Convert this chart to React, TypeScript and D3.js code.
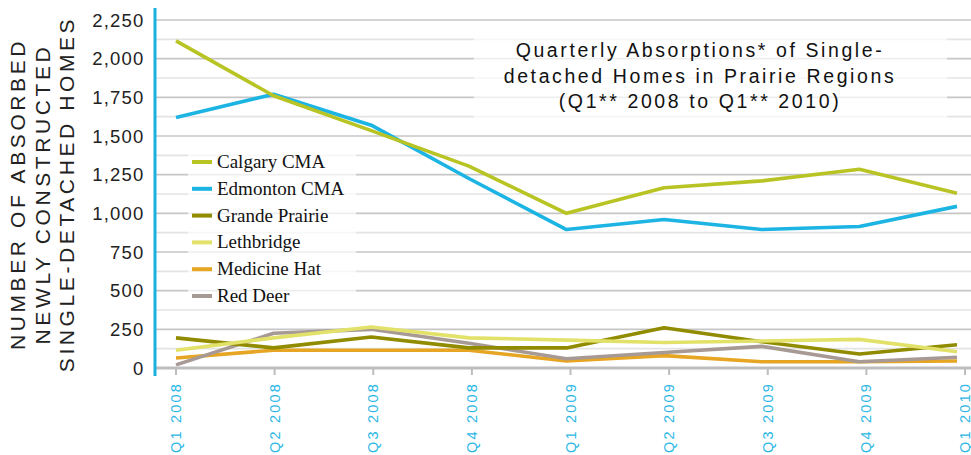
import React from 'react';
import { scaleLinear, scalePoint, line, range } from 'd3';

const quarters = ['Q1 2008', 'Q2 2008', 'Q3 2008', 'Q4 2008', 'Q1 2009', 'Q2 2009', 'Q3 2009', 'Q4 2009', 'Q1 2010'];
const calgary = [2115, 1760, 1535, 1305, 1000, 1165, 1210, 1285, 1130];
const edmonton = [1620, 1770, 1570, 1225, 895, 960, 895, 915, 1045];
const grandePrairie = [195, 130, 200, 130, 130, 260, 170, 90, 150];
const lethbridge = [115, 195, 265, 195, 180, 165, 175, 185, 105];
const medicineHat = [65, 115, 115, 115, 45, 80, 40, 40, 45];
const redDeer = [20, 225, 250, 160, 60, 100, 140, 40, 70];
const yTicks = [0, 250, 500, 750, 1000, 1250, 1500, 1750, 2000, 2250];
const titleLines = ['Quarterly Absorptions* of Single-', 'detached Homes in Prairie Regions', '(Q1** 2008 to Q1** 2010)'];
const yTitleLines = ['NUMBER OF ABSORBED', 'NEWLY CONSTRUCTED', 'SINGLE-DETACHED HOMES'];

const series = [
  { name: 'Calgary CMA', values: calgary, color: '#b8c424' },
  { name: 'Edmonton CMA', values: edmonton, color: '#1cb4e3' },
  { name: 'Grande Prairie', values: grandePrairie, color: '#918b00' },
  { name: 'Lethbridge', values: lethbridge, color: '#e2e26a' },
  { name: 'Medicine Hat', values: medicineHat, color: '#e6a522' },
  { name: 'Red Deer', values: redDeer, color: '#a79a95' },
];

// draw order: low series first so the big ones sit on top
const drawOrder = ['Medicine Hat', 'Red Deer', 'Grande Prairie', 'Lethbridge', 'Edmonton CMA', 'Calgary CMA'];

export default function App() {
  const width = 971;
  const height = 455;
  const x0 = 155;
  const xEnd = 971;

  const y = scaleLinear().domain([0, 2250]).range([368, 20]);
  const xData = scalePoint().domain(quarters).range([176, 957]);
  const xTick = scalePoint().domain(quarters).range([176, 965]);

  const path = line<number>()
    .x((d, i) => xData(quarters[i]) as number)
    .y(d => y(d));

  const grid = range(125, 2251, 125);

  return (
    <svg width={width} height={height} style={{ position: 'absolute', left: 0, top: 0, background: '#fff' }}>
      {/* gridlines */}
      {grid.map(v => (
        <line
          key={v}
          x1={x0}
          x2={xEnd}
          y1={y(v)}
          y2={y(v)}
          stroke={v % 250 === 0 ? '#c6c6c6' : '#e4e4e4'}
          strokeWidth={1.6}
        />
      ))}

      {/* lines */}
      {drawOrder.map(n => {
        const s = series.find(d => d.name === n)!;
        return (
          <path
            key={n}
            d={path(s.values) as string}
            fill="none"
            stroke={s.color}
            strokeWidth={3.6}
            strokeLinejoin="round"
          />
        );
      })}

      {/* title box */}
      <rect x={474} y={28} width={473} height={90} fill="#fff" opacity={0.7} />
      <g fontFamily="Liberation Sans, Arial, sans-serif" fontSize={19.5} fill="#111" letterSpacing={2.6} textAnchor="middle">
        {titleLines.map((t, i) => (
          <text key={t} x={700} y={57 + i * 25.5}>
            {t}
          </text>
        ))}
      </g>

      {/* legend */}
      <rect x={188} y={146} width={168} height={163} fill="#fff" opacity={0.7} />
      {series.map((s, i) => {
        const ly = 162 + i * 26.8;
        return (
          <g key={s.name}>
            <line x1={192} x2={212} y1={ly} y2={ly} stroke={s.color} strokeWidth={4} />
            <text x={217} y={ly + 6} fontFamily="Liberation Serif, Times New Roman, serif" fontSize={19} fill="#111">
              {s.name}
            </text>
          </g>
        );
      })}

      {/* x axis */}
      <line x1={x0} x2={xEnd} y1={368} y2={368} stroke="#bdbdbd" strokeWidth={3} />
      {quarters.map(q => (
        <g key={q} transform={`translate(${xTick(q)},368)`}>
          <line y1={0} y2={7} stroke="#bdbdbd" strokeWidth={2} />
          <text
            transform="translate(5,14) rotate(-90)"
            textAnchor="end"
            fontFamily="Liberation Sans, Arial, sans-serif"
            fontSize={14.5}
            letterSpacing={2.2}
            fill="#2cb7e6"
          >
            {q}
          </text>
        </g>
      ))}

      {/* y axis */}
      <line x1={x0} x2={x0} y1={8} y2={376} stroke="#1ab0e0" strokeWidth={3} />
      {yTicks.map(v => (
        <text
          key={v}
          x={144.5}
          y={y(v) + 6.5}
          textAnchor="end"
          fontFamily="Liberation Sans, Arial, sans-serif"
          fontSize={18.5}
          letterSpacing={1.2}
          fill="#222"
        >
          {v.toLocaleString('en-US')}
        </text>
      ))}
      <g fontFamily="Liberation Sans, Arial, sans-serif" fontSize={21} letterSpacing={3.6} fill="#222" textAnchor="middle">
        {yTitleLines.map((t, i) => (
          <text key={t} transform={`translate(${25 + i * 24.5},194) rotate(-90)`}>
            {t}
          </text>
        ))}
      </g>
    </svg>
  );
}
